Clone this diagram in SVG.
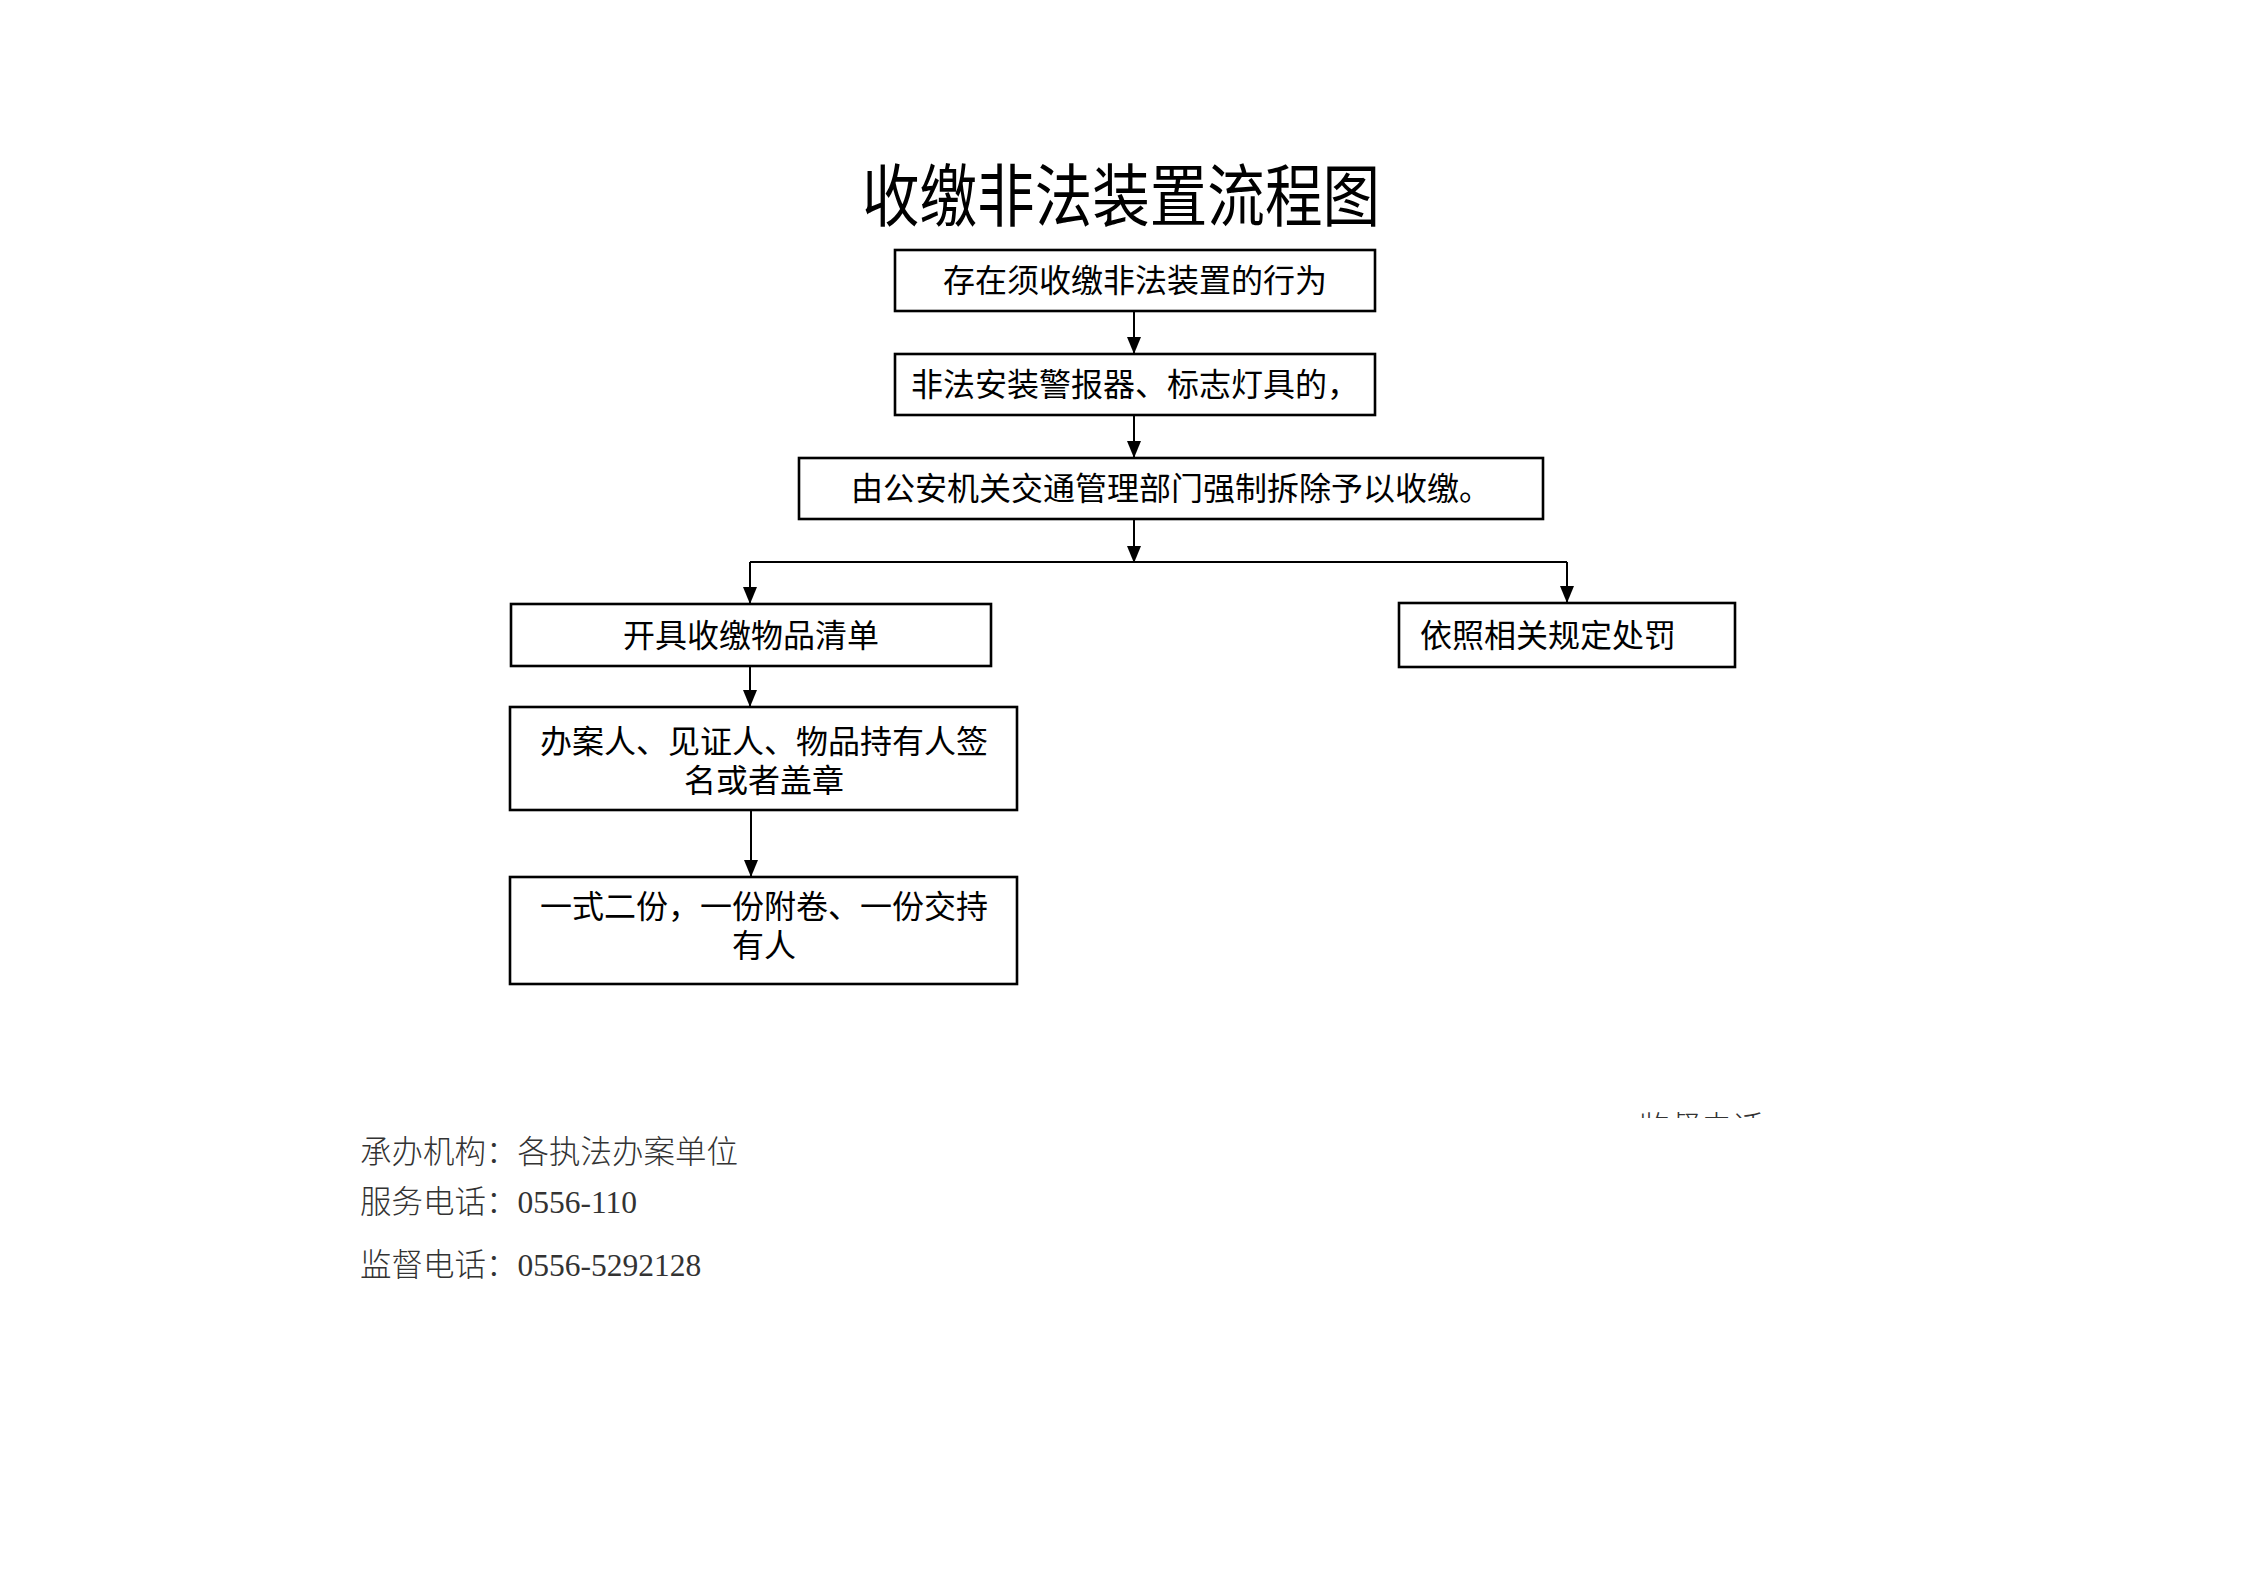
<svg xmlns="http://www.w3.org/2000/svg" width="2245" height="1587" viewBox="0 0 2245 1587">
<style>
.box{fill:#fff;stroke:#000;stroke-width:2.6}
.t{font-family:"Noto Sans CJK SC","Noto Sans",sans-serif;font-size:32px;fill:#000;text-anchor:middle}
.title{font-family:"Noto Sans CJK SC","Noto Sans",sans-serif;font-size:68px;font-weight:400;fill:#000}
.foot{font-family:"Liberation Serif","Noto Sans CJK SC",serif;font-size:31.5px;fill:#333;font-weight:300}
.conn{fill:none;stroke:#000;stroke-width:2}
</style>
<defs>
<marker id="arr" markerUnits="userSpaceOnUse" viewBox="0 0 17 14" markerWidth="17" markerHeight="14" refX="17" refY="7" orient="auto">
<path d="M0,0 L17,7 L0,14 z" fill="#000"/>
</marker>
<clipPath id="clipTop"><rect x="1600" y="1100" width="220" height="18"/></clipPath>
</defs>
<rect width="2245" height="1587" fill="#fff"/>
<text class="title" x="862" y="221" textLength="518" lengthAdjust="spacingAndGlyphs">收缴非法装置流程图</text>
<g id="connectors">
<line class="conn" x1="1134" y1="311" x2="1134" y2="354" marker-end="url(#arr)"/>
<line class="conn" x1="1134" y1="415" x2="1134" y2="458" marker-end="url(#arr)"/>
<line class="conn" x1="1134" y1="519" x2="1134" y2="563" marker-end="url(#arr)"/>
<line class="conn" x1="750" y1="562" x2="1567" y2="562"/>
<line class="conn" x1="750" y1="562" x2="750" y2="604" marker-end="url(#arr)"/>
<line class="conn" x1="1567" y1="562" x2="1567" y2="603" marker-end="url(#arr)"/>
<line class="conn" x1="750" y1="666" x2="750" y2="707" marker-end="url(#arr)"/>
<line class="conn" x1="751" y1="810" x2="751" y2="877" marker-end="url(#arr)"/>
</g>
<g id="n1"><rect class="box" x="895" y="250" width="480" height="61"/><text class="t" x="1135" y="292">存在须收缴非法装置的行为</text></g>
<g id="n2"><rect class="box" x="895" y="354" width="480" height="61"/><text class="t" x="1135" y="396">非法安装警报器、标志灯具的，</text></g>
<g id="n3"><rect class="box" x="799" y="458" width="744" height="61"/><text class="t" x="1171" y="500">由公安机关交通管理部门强制拆除予以收缴。</text></g>
<g id="n4"><rect class="box" x="511" y="604" width="480" height="62"/><text class="t" x="751" y="647">开具收缴物品清单</text></g>
<g id="n5"><rect class="box" x="1399" y="603" width="336" height="64"/><text class="t" x="1420" y="647" style="text-anchor:start">依照相关规定处罚</text></g>
<g id="n6"><rect class="box" x="510" y="707" width="507" height="103"/><text class="t"><tspan x="764" y="753">办案人、见证人、物品持有人签</tspan><tspan x="764" y="792">名或者盖章</tspan></text></g>
<g id="n7"><rect class="box" x="510" y="877" width="507" height="107"/><text class="t"><tspan x="764" y="918">一式二份，一份附卷、一份交持</tspan><tspan x="764" y="957">有人</tspan></text></g>
<g id="footer">
<text class="foot" x="1638" y="1139" clip-path="url(#clipTop)">监督电话</text>
<text class="foot" x="360" y="1163">承办机构：各执法办案单位</text>
<text class="foot" x="360" y="1213">服务电话：0556-110</text>
<text class="foot" x="360" y="1276">监督电话：0556-5292128</text>
</g>
</svg>
